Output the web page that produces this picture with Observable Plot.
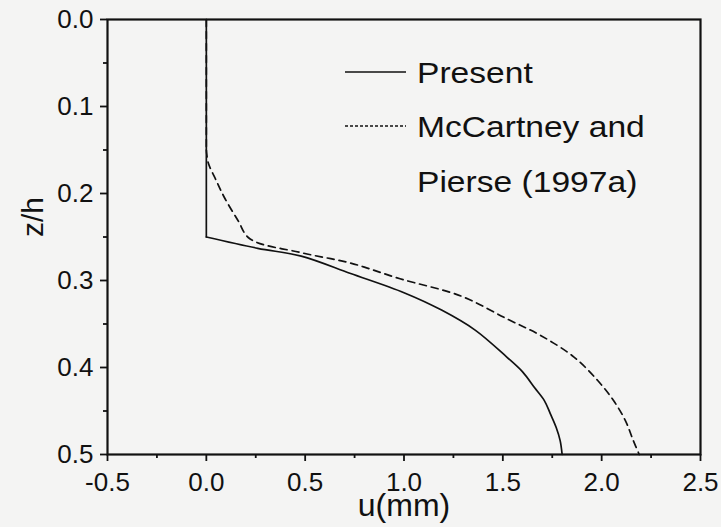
<!DOCTYPE html>
<html><head><meta charset="utf-8">
<script src="https://cdn.jsdelivr.net/npm/d3@7"></script>
<script src="https://cdn.jsdelivr.net/npm/@observablehq/plot@0.6"></script>
<style>
html,body{margin:0;padding:0;background:#f4f4f3;}
#wrap{position:relative;width:721px;height:527px;font-family:"Liberation Sans",Arial,sans-serif;}
#wrap svg.legend{position:absolute;left:0;top:0;pointer-events:none;}
#wrap g[aria-label$="tick label"], #wrap g[aria-label$="tick label"] text{font-size:26px !important;}
</style></head><body><div id="wrap"></div>
<script>
const xTicks = [-0.5, 0, 0.5, 1, 1.5, 2, 2.5];
const xMinor = [-0.25, 0.25, 0.75, 1.25, 1.75, 2.25];
const yTicks = [0, 0.1, 0.2, 0.3, 0.4, 0.5];
const yMinor = [0.05, 0.15, 0.25, 0.35, 0.45];

const presentU = [0, 0, 0.26, 0.48, 0.73, 1.0, 1.19, 1.36, 1.52, 1.6, 1.66, 1.71, 1.74, 1.77, 1.79, 1.8];
const presentZ = [0, 0.25, 0.263, 0.272, 0.292, 0.314, 0.334, 0.357, 0.388, 0.405, 0.423, 0.438, 0.453, 0.469, 0.484, 0.5];

const mccU = [0, 0, 0.01, 0.05, 0.09, 0.16, 0.22, 0.48, 0.73, 0.98, 1.29, 1.52, 1.69, 1.86, 1.98, 2.06, 2.12, 2.16, 2.19];
const mccZ = [0, 0.15, 0.165, 0.185, 0.204, 0.231, 0.252, 0.268, 0.28, 0.298, 0.318, 0.344, 0.363, 0.388, 0.415, 0.438, 0.461, 0.484, 0.5];

const legendLabels = ["Present", "McCartney and", "Pierse (1997a)"];
const xLabel = "u(mm)";
const yLabel = "z/h";

// split each profile into its straight (u = 0) part and its curved part
function split(us, zs) {
  const rows = [];
  let k = us.findIndex((u, i) => i > 0 && u !== 0) - 1; // last point on u = 0
  us.forEach((u, i) => {
    if (i <= k) rows.push({u, z: zs[i], part: "straight"});
    if (i >= k) rows.push({u, z: zs[i], part: "curve"});
  });
  return rows;
}
const present = split(presentU, presentZ);
const mcc = split(mccU, mccZ);

const fmt = d => d.toFixed(1);
const lineStyle = {x: "u", y: "z", stroke: "#111", strokeWidth: 1.7};
const chart = Plot.plot({
  width: 721, height: 527,
  marginLeft: 107, marginRight: 21, marginTop: 19, marginBottom: 73,
  style: {background: "transparent", fontFamily: "Liberation Sans, Arial, sans-serif", fontSize: "26px", color: "#111"},
  x: {domain: [-0.5, 2.5]},
  y: {domain: [0, 0.5], reverse: true},
  marks: [
    Plot.axisX(xTicks, {tickSize: 7, tickPadding: 11, tickFormat: fmt, fontSize: 26, strokeWidth: 1.8, label: null}),
    Plot.axisX(xMinor, {tickSize: 4, tickFormat: () => "", strokeWidth: 1.8, label: null}),
    Plot.axisY(yTicks, {tickSize: 7, tickPadding: 7, tickFormat: fmt, fontSize: 26, strokeWidth: 1.8, label: null}),
    Plot.axisY(yMinor, {tickSize: 4, tickFormat: () => "", strokeWidth: 1.8, label: null}),
    Plot.line(present.filter(d => d.part === "straight"), {...lineStyle}),
    Plot.line(present.filter(d => d.part === "curve"), {...lineStyle, curve: "catmull-rom"}),
    Plot.line(mcc.filter(d => d.part === "straight"), {...lineStyle, strokeDasharray: "7,5"}),
    Plot.line(mcc.filter(d => d.part === "curve"), {...lineStyle, strokeDasharray: "7,5", curve: "catmull-rom"}),
    Plot.frame({stroke: "#111", strokeWidth: 2.2}),
    Plot.text([xLabel], {frameAnchor: "bottom", dy: 61, fontSize: 32, fill: "#111"}),
    Plot.text([yLabel], {frameAnchor: "left", dx: -74, rotate: -90, fontSize: 30, fill: "#111"})
  ]
});
const wrap = document.getElementById("wrap");
wrap.appendChild(chart);

// legend overlay
const lg = d3.select(wrap).append("svg").attr("class", "legend")
  .attr("width", 721).attr("height", 527);
const rows = [
  {label: legendLabels[0], y: 83, dash: null, line: true},
  {label: legendLabels[1], y: 137, dash: "3,2", line: true},
  {label: legendLabels[2], y: 192, dash: null, line: false}
];
rows.forEach(r => {
  if (r.line) {
    lg.append("line").attr("x1", 345).attr("x2", 406).attr("y1", r.y - 11).attr("y2", r.y - 11)
      .attr("stroke", "#111").attr("stroke-width", 1.5).attr("stroke-dasharray", r.dash);
  }
  lg.append("text").attr("transform", `translate(417,${r.y}) scale(1.12,1)`).attr("font-size", 30)
    .attr("font-family", "Liberation Sans, Arial, sans-serif").attr("fill", "#111").text(r.label);
});
</script>
</body></html>
